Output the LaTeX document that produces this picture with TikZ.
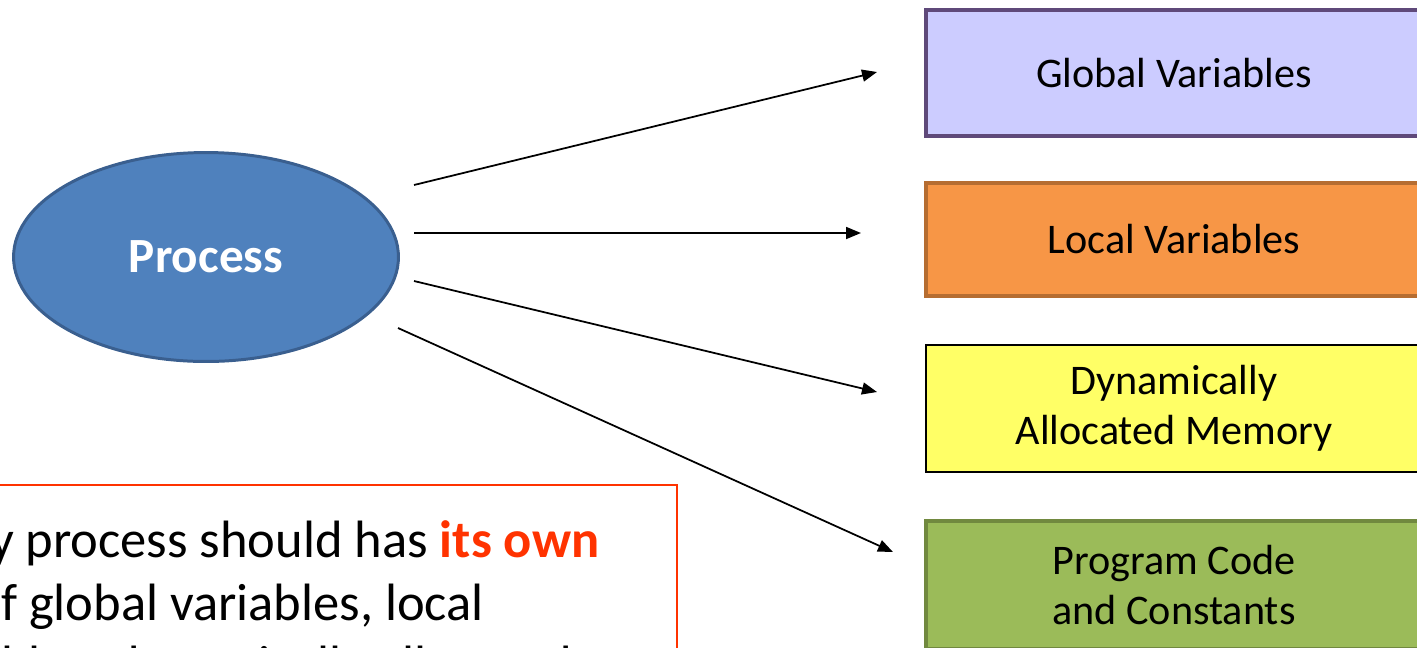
\documentclass[tikz,border=0pt]{standalone}
\usepackage{fontspec}
\setmainfont{Carlito}
\usetikzlibrary{shapes.geometric,arrows.meta}

\definecolor{procfill}{HTML}{4F81BD}
\definecolor{procline}{HTML}{3A5F8F}
\definecolor{globfill}{HTML}{CCCCFF}
\definecolor{globline}{HTML}{5F497A}
\definecolor{locfill}{HTML}{F79646}
\definecolor{locline}{HTML}{B66D31}
\definecolor{dynfill}{HTML}{FFFF66}
\definecolor{progfill}{HTML}{9BBB59}
\definecolor{progline}{HTML}{71893F}
\definecolor{rosso}{HTML}{FF3300}

\tikzset{
  memblock/.style={draw, line width=2.2pt, minimum width=9.92cm, align=center,
    font=\fontsize{24}{28.5}\selectfont},
  freccia/.style={-{Triangle[length=0.3cm,width=0.24cm]}, line width=1pt},
}

\begin{document}
\begin{tikzpicture}[x=0.02cm,y=-0.02cm]
    \useasboundingbox (0,0) rectangle (1417,647);
    \clip (0,0) rectangle (1417,647);

    % Il processo
    \node[ellipse, draw=procline, fill=procfill, line width=1.7pt,
          minimum width=7.7cm, minimum height=4.18cm, text=white,
          font=\fontsize{28}{32}\selectfont\bfseries] (proc) at (206,257) {Process};

    % Le aree di memoria
    \node[memblock, draw=globline, fill=globfill, minimum height=2.52cm] (glob) at (1174,73) {Global Variables};
    \node[memblock, draw=locline, fill=locfill, minimum height=2.26cm] (loc) at (1174,239.5) {Local Variables};
    \node[memblock, draw=black, fill=dynfill, line width=1.1pt, minimum height=2.54cm] (dyn) at (1174,408.5) {Dynamically\\Allocated Memory};
    \node[memblock, draw=progline, fill=progfill, minimum height=2.56cm] (prog) at (1174,585) {Program Code\\and Constants};

    % Estremi liberi delle frecce
    \coordinate (s1) at (414,185);
    \coordinate (s2) at (414,233);
    \coordinate (s3) at (414,281);
    \coordinate (s4) at (398,328);
    \coordinate (e1) at (877,72);
    \coordinate (e2) at (861,233);
    \coordinate (e3) at (877,392);
    \coordinate (e4) at (893,552);

    \draw[freccia] (s1) -- (e1);
    \draw[freccia] (s2) -- (e2);
    \draw[freccia] (s3) -- (e3);
    \draw[freccia] (s4) -- (e4);

    % La nota
    \node[draw=rosso, line width=1.1pt, anchor=north east, text width=15.34cm,
          inner xsep=0.25cm, inner ysep=0.25cm, minimum height=4.84cm, align=left,
          font=\fontsize{29.9}{35.7}\selectfont] (nota) at (678,484)
        {\spaceskip=0.226em\relax
         Every process should has \textcolor{rosso}{\bfseries its own}\\
         set of global variables, local\\
         variables, dynamically allocated};
\end{tikzpicture}
\end{document}
